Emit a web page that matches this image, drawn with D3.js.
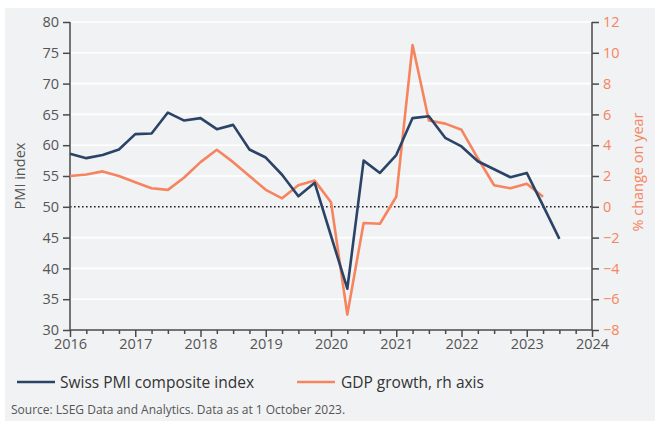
<!DOCTYPE html>
<html>
<head>
<meta charset="utf-8">
<script src="https://cdn.jsdelivr.net/npm/d3@7"></script>
<style>
  html, body { margin: 0; padding: 0; background: #ffffff; }
  svg { display: block; font-family: "Open Sans", "Noto Sans", sans-serif; }
</style>
</head>
<body>
<svg id="chart" width="658" height="421"></svg>
<script>
// Quarterly observations, 2016 Q1 to 2023 Q3
const quarters = d3.range(0, 31).map(i => 2016 + i * 0.25);

// Swiss PMI composite index (left axis)
const pmiValues = [
  58.6, 57.9, 58.4, 59.3, 61.8, 61.9, 65.3, 64.0, 64.4, 62.6, 63.3,
  59.3, 58.0, 55.2, 51.7, 53.9, 45.3, 36.7, 57.5, 55.5, 58.4, 64.4,
  64.7, 61.2, 59.8, 57.4, 56.1, 54.8, 55.5, 50.2, 44.8
];

// GDP growth, % change on year (right axis), 2016 Q1 to 2023 Q2
const gdpValues = [
  2.0, 2.1, 2.3, 2.0, 1.6, 1.2, 1.1, 1.9, 2.9, 3.7, 2.9,
  2.0, 1.1, 0.55, 1.4, 1.7, 0.3, -7.0, -1.05, -1.1, 0.65, 10.5,
  5.6, 5.4, 5.0, 3.15, 1.4, 1.2, 1.5, 0.65
];

const leftTicks = [30, 35, 40, 45, 50, 55, 60, 65, 70, 75, 80];
const rightTicks = [-8, -6, -4, -2, 0, 2, 4, 6, 8, 10, 12];
const yearTicks = [2016, 2017, 2018, 2019, 2020, 2021, 2022, 2023, 2024];

const legendLabels = ["Swiss PMI composite index", "GDP growth, rh axis"];
const leftTitle = "PMI index";
const rightTitle = "% change on year";
const sourceNote = "Source: LSEG Data and Analytics. Data as at 1 October 2023.";

const navy = "#2b4366";
const coral = "#f6845f";
const axisGrey = "#4a4a4a";
const labelGrey = "#555555";

const svg = d3.select("#chart");

// Panel background
svg.append("rect")
  .attr("x", 5).attr("y", 8)
  .attr("width", 650).attr("height", 413)
  .attr("fill", "#f1f2f4");

const plot = { left: 70, right: 592, top: 22, bottom: 330 };

const x = d3.scaleLinear().domain([2016, 2024]).range([plot.left, plot.right]);
const yL = d3.scaleLinear().domain([30, 80]).range([plot.bottom, plot.top]);
const yR = d3.scaleLinear().domain([-8, 12]).range([plot.bottom, plot.top]);

// Horizontal gridlines
svg.append("g")
  .selectAll("line")
  .data(leftTicks.filter(t => t !== 30 && t !== 50))
  .join("line")
  .attr("x1", plot.left).attr("x2", plot.right)
  .attr("y1", d => yL(d)).attr("y2", d => yL(d))
  .attr("stroke", "#ffffff")
  .attr("stroke-width", 1.6);

// Dotted reference line at 50 / 0%
svg.append("line")
  .attr("x1", plot.left).attr("x2", plot.right)
  .attr("y1", yL(50)).attr("y2", yL(50))
  .attr("stroke", "#222222")
  .attr("stroke-width", 1.6)
  .attr("stroke-dasharray", "1.6,2.4");

// Left axis
const gL = svg.append("g")
  .attr("transform", `translate(${plot.left},0)`)
  .call(d3.axisLeft(yL).tickValues(leftTicks).tickSize(7).tickPadding(4));
gL.selectAll("text").attr("fill", labelGrey).style("font-size", "14.5px");

// Right axis
const gR = svg.append("g")
  .attr("transform", `translate(${plot.right},0)`)
  .call(d3.axisRight(yR).tickValues(rightTicks).tickSize(7).tickPadding(4)
    .tickFormat(d3.format("d")));
gR.selectAll("text").attr("fill", coral).style("font-size", "14.5px");

// Bottom axis: quarterly minor ticks, yearly labelled ticks
const minorTicks = d3.range(0, 33).map(i => 2016 + i * 0.25).filter(v => v % 1 !== 0);
const gMinor = svg.append("g")
  .attr("transform", `translate(0,${plot.bottom})`)
  .call(d3.axisBottom(x).tickValues(minorTicks).tickSize(4).tickFormat(""));
gMinor.select(".domain").remove();

const gB = svg.append("g")
  .attr("transform", `translate(0,${plot.bottom})`)
  .call(d3.axisBottom(x).tickValues(yearTicks).tickSize(7).tickPadding(2)
    .tickFormat(d3.format("d")));
gB.selectAll("text").attr("fill", labelGrey).style("font-size", "14.5px");

[gL, gR, gMinor, gB].forEach(g => {
  g.selectAll(".domain").attr("stroke", axisGrey).attr("stroke-width", 1.5);
  g.selectAll(".tick line").attr("stroke", axisGrey).attr("stroke-width", 1.5);
  g.attr("font-family", null);
});
gL.select(".domain").attr("d", `M-0,${plot.top}V${plot.bottom}`);
gR.select(".domain").attr("d", `M0,${plot.top}V${plot.bottom}`);
gB.select(".domain").attr("d", `M${plot.left},0H${plot.right}`);

// Axis titles
svg.append("text")
  .attr("transform", `translate(25,${(plot.top + plot.bottom) / 2}) rotate(-90)`)
  .attr("text-anchor", "middle")
  .attr("fill", labelGrey)
  .style("font-size", "14.5px")
  .text(leftTitle);

svg.append("text")
  .attr("transform", `translate(643,${(plot.top + plot.bottom) / 2 - 4}) rotate(-90)`)
  .attr("text-anchor", "middle")
  .attr("fill", coral)
  .style("font-size", "14.5px")
  .text(rightTitle);

// Series lines
const pmiLine = d3.line().x((d, i) => x(quarters[i])).y(d => yL(d));
const gdpLine = d3.line().x((d, i) => x(quarters[i])).y(d => yR(d));

svg.append("path")
  .datum(gdpValues)
  .attr("d", gdpLine)
  .attr("fill", "none")
  .attr("stroke", coral)
  .attr("stroke-width", 2.6)
  .attr("stroke-linejoin", "round");

svg.append("path")
  .datum(pmiValues)
  .attr("d", pmiLine)
  .attr("fill", "none")
  .attr("stroke", navy)
  .attr("stroke-width", 2.6)
  .attr("stroke-linejoin", "round");

// Legend
const legend = svg.append("g");
const legendItems = [
  { label: legendLabels[0], color: navy, x1: 17, x2: 55, tx: 60 },
  { label: legendLabels[1], color: coral, x1: 297, x2: 335, tx: 341 }
];
legendItems.forEach(it => {
  legend.append("line")
    .attr("x1", it.x1).attr("x2", it.x2)
    .attr("y1", 382).attr("y2", 382)
    .attr("stroke", it.color).attr("stroke-width", 2.6);
  legend.append("text")
    .attr("x", it.tx).attr("y", 387.5)
    .attr("fill", "#333333")
    .style("font-size", "15.5px")
    .text(it.label);
});

// Source note
svg.append("text")
  .attr("x", 11).attr("y", 414)
  .attr("fill", labelGrey)
  .style("font-size", "12px")
  .text(sourceNote);
</script>
</body>
</html>
